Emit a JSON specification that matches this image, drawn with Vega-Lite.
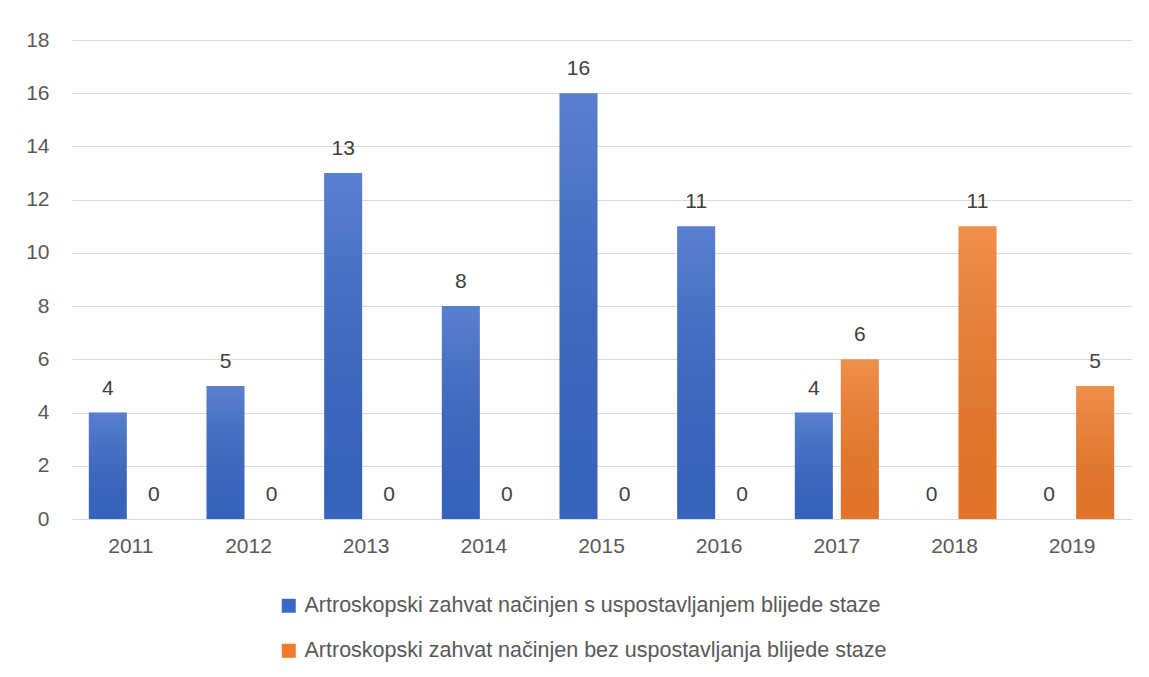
{
  "$schema": "https://vega.github.io/schema/vega-lite/v6.json",
  "width": 1059,
  "height": 479,
  "autosize": {"type": "none"},
  "padding": {"left": 72, "top": 40, "right": 18, "bottom": 158},
  "background": "white",
  "config": {"view": {"stroke": null}, "font": "Liberation Sans"},
  "data": {
    "values": [
      {"year": "2011", "series": "Artroskopski zahvat načinjen s uspostavljanjem blijede staze", "value": 4},
      {"year": "2011", "series": "Artroskopski zahvat načinjen bez uspostavljanja blijede staze", "value": 0},
      {"year": "2012", "series": "Artroskopski zahvat načinjen s uspostavljanjem blijede staze", "value": 5},
      {"year": "2012", "series": "Artroskopski zahvat načinjen bez uspostavljanja blijede staze", "value": 0},
      {"year": "2013", "series": "Artroskopski zahvat načinjen s uspostavljanjem blijede staze", "value": 13},
      {"year": "2013", "series": "Artroskopski zahvat načinjen bez uspostavljanja blijede staze", "value": 0},
      {"year": "2014", "series": "Artroskopski zahvat načinjen s uspostavljanjem blijede staze", "value": 8},
      {"year": "2014", "series": "Artroskopski zahvat načinjen bez uspostavljanja blijede staze", "value": 0},
      {"year": "2015", "series": "Artroskopski zahvat načinjen s uspostavljanjem blijede staze", "value": 16},
      {"year": "2015", "series": "Artroskopski zahvat načinjen bez uspostavljanja blijede staze", "value": 0},
      {"year": "2016", "series": "Artroskopski zahvat načinjen s uspostavljanjem blijede staze", "value": 11},
      {"year": "2016", "series": "Artroskopski zahvat načinjen bez uspostavljanja blijede staze", "value": 0},
      {"year": "2017", "series": "Artroskopski zahvat načinjen s uspostavljanjem blijede staze", "value": 4},
      {"year": "2017", "series": "Artroskopski zahvat načinjen bez uspostavljanja blijede staze", "value": 6},
      {"year": "2018", "series": "Artroskopski zahvat načinjen s uspostavljanjem blijede staze", "value": 0},
      {"year": "2018", "series": "Artroskopski zahvat načinjen bez uspostavljanja blijede staze", "value": 11},
      {"year": "2019", "series": "Artroskopski zahvat načinjen s uspostavljanjem blijede staze", "value": 0},
      {"year": "2019", "series": "Artroskopski zahvat načinjen bez uspostavljanja blijede staze", "value": 5}
    ]
  },
  "encoding": {
    "x": {
      "field": "year",
      "type": "nominal",
      "scale": {"paddingInner": 0.286, "paddingOuter": 0.143},
      "axis": {
        "title": null,
        "labelAngle": 0,
        "ticks": false,
        "domainColor": "#d9d9d9",
        "domainWidth": 1,
        "labelFontSize": 21,
        "labelColor": "#595959",
        "labelPadding": 16
      }
    },
    "xOffset": {
      "field": "series",
      "type": "nominal",
      "sort": ["Artroskopski zahvat načinjen s uspostavljanjem blijede staze", "Artroskopski zahvat načinjen bez uspostavljanja blijede staze"],
      "scale": {"paddingInner": 0.174}
    },
    "y": {
      "field": "value",
      "type": "quantitative",
      "scale": {"domain": [0, 18]},
      "axis": {
        "title": null,
        "values": [0, 2, 4, 6, 8, 10, 12, 14, 16, 18],
        "domain": false,
        "ticks": false,
        "gridColor": "#d9d9d9",
        "gridWidth": 1,
        "labelFontSize": 21,
        "labelColor": "#595959",
        "labelPadding": 23
      }
    }
  },
  "layer": [
    {
      "mark": {"type": "bar"},
      "encoding": {
        "color": {
          "field": "series",
          "type": "nominal",
          "sort": ["Artroskopski zahvat načinjen s uspostavljanjem blijede staze", "Artroskopski zahvat načinjen bez uspostavljanja blijede staze"],
          "scale": {"range": ["#3a68c6", "#ee7a2a"]},
          "legend": {
            "title": null,
            "orient": "none",
            "legendX": 206,
            "legendY": 555,
            "padding": 0,
            "direction": "vertical",
            "symbolType": "square",
            "symbolSize": 196,
            "symbolStrokeWidth": 0,
            "labelFontSize": 21.5,
            "labelColor": "#595959",
            "labelOffset": 5,
            "rowPadding": 22,
            "labelLimit": 0
          }
        }
      }
    },
    {
      "mark": {
        "type": "bar",
        "fill": {
          "gradient": "linear",
          "x1": 0, "y1": 0, "x2": 0, "y2": 1,
          "stops": [
            {"offset": 0, "color": "rgba(255,255,255,0.16)"},
            {"offset": 1, "color": "rgba(0,0,0,0.05)"}
          ]
        }
      }
    },
    {
      "mark": {"type": "text", "baseline": "alphabetic", "dy": -18, "fontSize": 21, "color": "#404040"},
      "encoding": {"text": {"field": "value", "type": "quantitative"}}
    }
  ]
}
